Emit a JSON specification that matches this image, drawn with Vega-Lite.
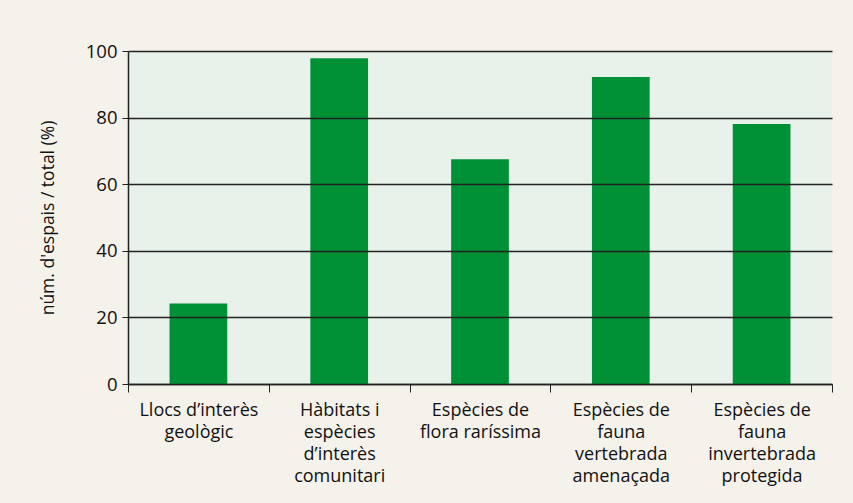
{
  "$schema": "https://vega.github.io/schema/vega-lite/v6.json",
  "width": 704,
  "height": 333,
  "autosize": {"type": "none"},
  "padding": {"left": 128, "top": 51, "right": 21, "bottom": 119},
  "background": "#f5f1eb",
  "config": {
    "view": {"fill": "#e9f2ea", "stroke": null},
    "font": "Open Sans"
  },
  "data": {
    "values": [
      {"cat": "Llocs d’interès|geològic", "v": 24.2},
      {"cat": "Hàbitats i|espècies|d’interès|comunitari", "v": 97.8},
      {"cat": "Espècies de|flora raríssima", "v": 67.5},
      {"cat": "Espècies de|fauna|vertebrada|amenaçada", "v": 92.2},
      {"cat": "Espècies de|fauna|invertebrada|protegida", "v": 78.1}
    ]
  },
  "mark": {"type": "bar", "color": "#009036", "width": {"band": 0.41}},
  "encoding": {
    "x": {
      "field": "cat",
      "type": "nominal",
      "sort": null,
      "scale": {"paddingInner": 0, "paddingOuter": 0},
      "axis": {
        "title": null,
        "labelAngle": 0,
        "labelExpr": "split(datum.label, '|')",
        "labelFontSize": 18,
        "labelColor": "#111",
        "labelLineHeight": 22,
        "labelPadding": 9,
        "labelBaseline": "top",
        "tickBand": "extent",
        "tickSize": 8,
        "tickColor": "#222",
        "domainColor": "#222",
        "domainWidth": 1.5,
        "labelLimit": 200
      }
    },
    "y": {
      "field": "v",
      "type": "quantitative",
      "scale": {"domain": [0, 100]},
      "axis": {
        "values": [0, 20, 40, 60, 80, 100],
        "title": "núm. d'espais / total (%)",
        "titleFontSize": 17.5,
        "titleFontWeight": "normal",
        "titleColor": "#111",
        "titlePadding": 28,
        "labelFontSize": 18.5,
        "labelColor": "#111",
        "labelPadding": 5,
        "tickSize": 6,
        "tickColor": "#222",
        "domainColor": "#222",
        "domainWidth": 1.5,
        "grid": true,
        "gridColor": "#222",
        "gridWidth": 1.3,
        "zindex": 1
      }
    }
  }
}
